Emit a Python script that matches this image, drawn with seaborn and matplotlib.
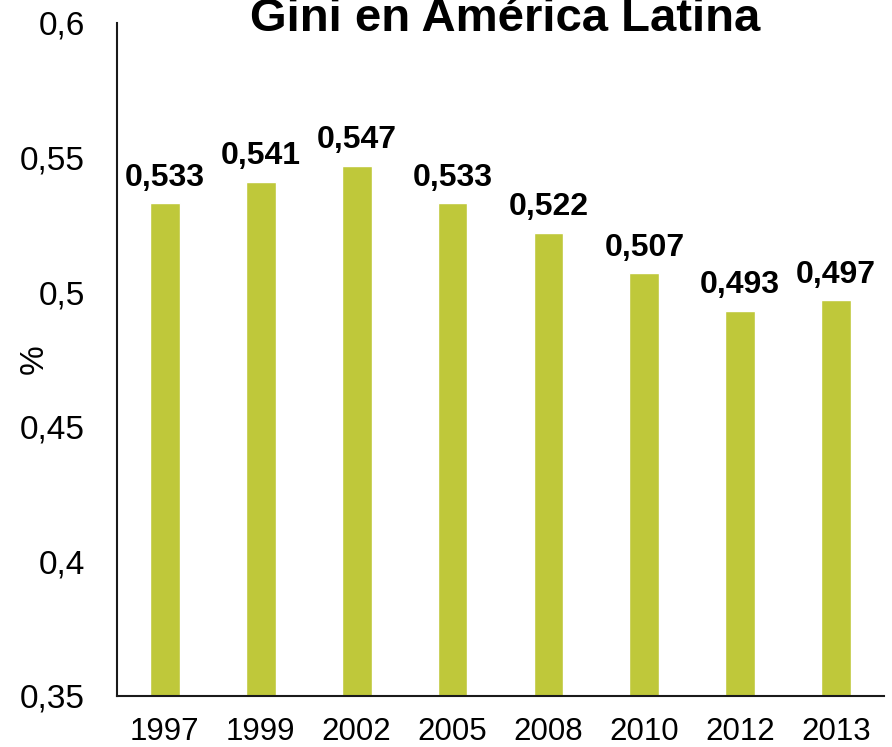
import numpy as np
import pandas as pd
import matplotlib
matplotlib.use('Agg')
import matplotlib.pyplot as plt
import seaborn as sns

years = ['1997', '1999', '2002', '2005', '2008', '2010', '2012', '2013']
gini = [0.533, 0.541, 0.547, 0.533, 0.522, 0.507, 0.493, 0.497]
yticks = [0.35, 0.4, 0.45, 0.5, 0.55, 0.6]
ytick_labels = ['0,35', '0,4', '0,45', '0,5', '0,55', '0,6']

df = pd.DataFrame({'year': years, 'gini': gini})

sns.set_style('white')
plt.rcParams['font.family'] = ['Liberation Sans', 'DejaVu Sans']
plt.rcParams['text.color'] = 'black'
plt.rcParams['axes.labelcolor'] = 'black'
plt.rcParams['xtick.color'] = 'black'
plt.rcParams['ytick.color'] = 'black'

fig = plt.figure(figsize=(8.92, 7.47), dpi=100)
ax = fig.add_axes([117 / 892, 1 - 696 / 747, 767 / 892, (696 - 23) / 747])

sns.barplot(data=df, x='year', y='gini', color='#bfc83a', width=0.31,
            saturation=1, ax=ax)

for i, v in enumerate(gini):
    ax.text(i, v + 0.004, ('%.3f' % v).replace('.', ','), ha='center',
            va='bottom', fontsize=23, fontweight='bold')

ax.set_ylim(0.35, 0.6)
ax.set_yticks(yticks)
ax.set_yticklabels(ytick_labels, fontsize=24)
ax.tick_params(axis='x', labelsize=22.5, length=0, pad=15)
ax.tick_params(axis='y', length=0, pad=23)
ax.set_xlabel('')
ax.set_ylabel('%', fontsize=24)
ax.yaxis.set_label_coords(-0.088, 0.5)

for s in ['top', 'right']:
    ax.spines[s].set_visible(False)
for s in ['left', 'bottom']:
    ax.spines[s].set_color('#1a1a1a')
    ax.spines[s].set_linewidth(1.5)

fig.text(505 / 892, 1 - 31 / 747, 'Gini en América Latina', ha='center',
         va='baseline', fontsize=34, fontweight='bold')

fig.savefig('out.png', dpi=100)
